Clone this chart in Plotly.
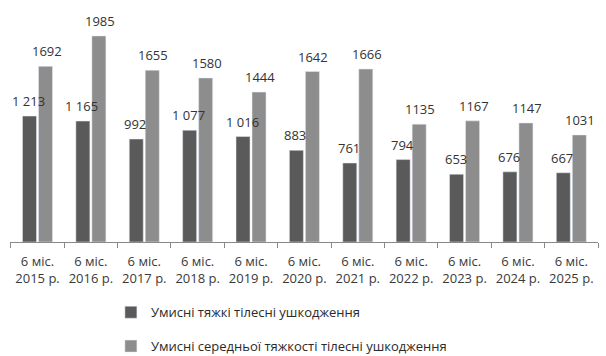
import plotly.graph_objects as go

categories = ["6 міс.<br>2015 р.", "6 міс.<br>2016 р.", "6 міс.<br>2017 р.", "6 міс.<br>2018 р.",
              "6 міс.<br>2019 р.", "6 міс.<br>2020 р.", "6 міс.<br>2021 р.", "6 міс.<br>2022 р.",
              "6 міс.<br>2023 р.", "6 міс.<br>2024 р.", "6 міс.<br>2025 р."]
severe = [1213, 1165, 992, 1077, 1016, 883, 761, 794, 653, 676, 667]
severe_labels = ["1 213", "1 165", "992", "1 077", "1 016", "883", "761", "794", "653", "676", "667"]
medium = [1692, 1985, 1655, 1580, 1444, 1642, 1666, 1135, 1167, 1147, 1031]
medium_labels = ["1692", "1985", "1655", "1580", "1444", "1642", "1666", "1135", "1167", "1147", "1031"]

series_names = ["Умисні тяжкі тілесні ушкодження", "Умисні середньої тяжкості тілесні ушкодження"]

FONT = "Open Sans"
dark = "#5a5a5a"
light = "#8d8d8d"

fig = go.Figure()
fig.add_trace(go.Bar(x=categories, y=severe, name=series_names[0], marker_color=dark,
                     legendgroup="a", offsetgroup="a"))
fig.add_trace(go.Bar(x=categories, y=medium, name=series_names[1], marker_color=light,
                     legendgroup="b", offsetgroup="b"))

annotations = []
for i, c in enumerate(categories):
    annotations.append(dict(x=c, y=severe[i], text=severe_labels[i], xref="x", yref="y",
                            showarrow=False, yanchor="middle", yshift=15, xshift=-9,
                            font=dict(family=FONT, size=13, color="#333333")))
    annotations.append(dict(x=c, y=medium[i], text=medium_labels[i], xref="x", yref="y",
                            showarrow=False, yanchor="middle", yshift=15, xshift=9,
                            font=dict(family=FONT, size=13, color="#333333")))

fig.update_layout(
    width=606, height=356,
    margin=dict(l=10, r=8, t=10, b=114, autoexpand=False),
    paper_bgcolor="white", plot_bgcolor="white",
    barmode="group", bargap=0.40, bargroupgap=0.125,
    font=dict(family=FONT, size=13, color="#404040"),
    annotations=annotations,
    xaxis=dict(type="category", tickson="boundaries", ticks="outside", ticklen=5,
               tickcolor="#888888", showline=True, linecolor="#888888", linewidth=1,
               tickangle=0, automargin=False, ticklabelstandoff=7,
               tickfont=dict(family=FONT, size=13, color="#3a3a3a"), showgrid=False),
    yaxis=dict(range=[0, 2235], visible=False, showgrid=False, automargin=False),
    legend=dict(xref="container", yref="container", x=0.183, y=0.165, xanchor="left", yanchor="top",
                orientation="v", traceorder="grouped", tracegroupgap=14,
                font=dict(family=FONT, size=13, color="#2a2a2a")),
    showlegend=True,
)

fig.write_html("out.html")
